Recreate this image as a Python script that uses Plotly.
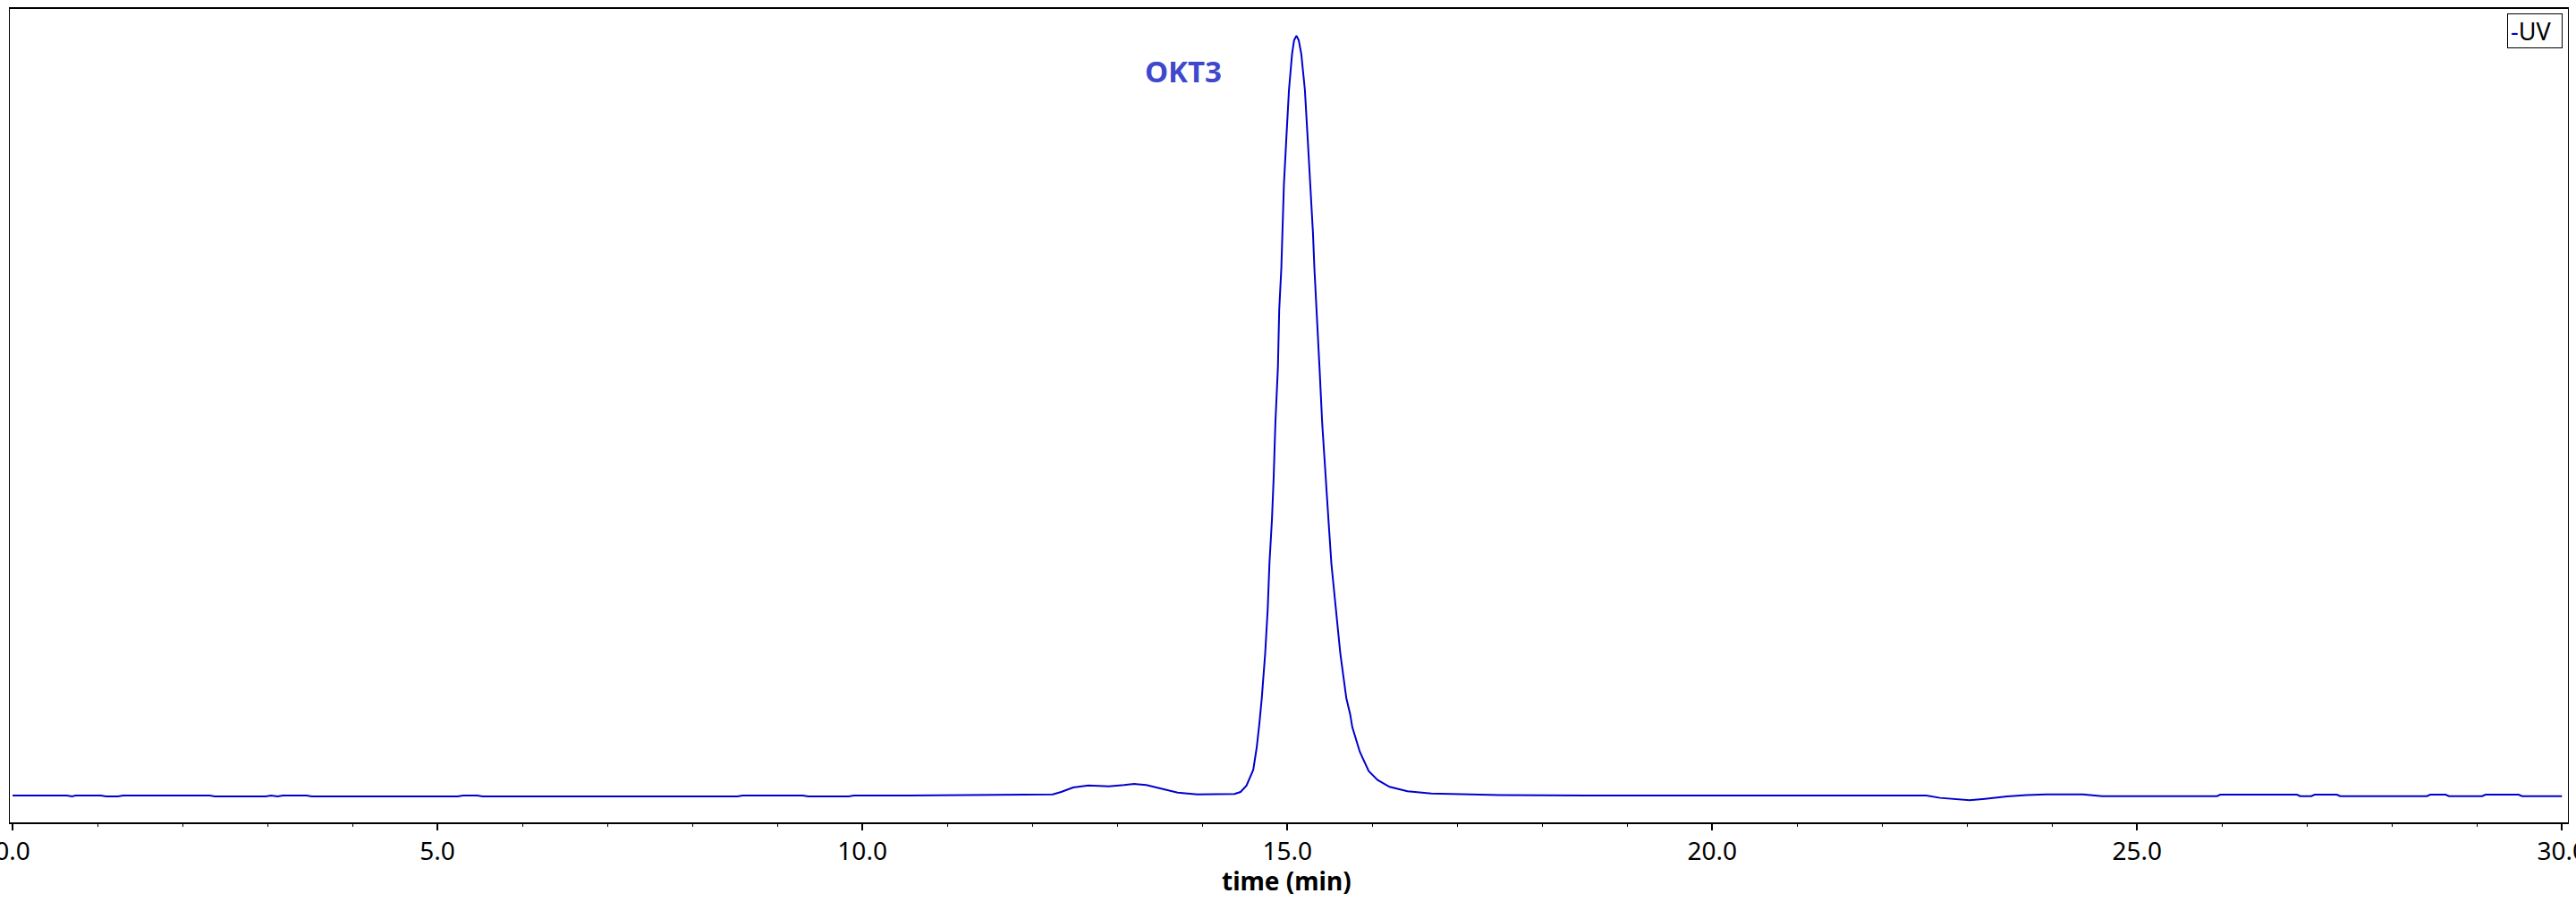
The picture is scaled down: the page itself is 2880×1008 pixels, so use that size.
import plotly.graph_objects as go

# ---- data (time in min, signal in relative units) ----
time_min = [
    0.00, 0.64, 0.70, 0.74, 1.04, 1.10, 1.24, 1.30, 2.32, 2.38, 2.98, 3.04, 3.12, 3.18,
    3.46, 3.52, 5.24, 5.30, 5.47, 5.53, 8.53, 8.59, 9.30, 9.36, 9.84, 9.90, 10.50, 11.00,
    11.90, 12.24, 12.34, 12.48, 12.66, 12.78, 12.90, 13.08, 13.20, 13.34, 13.54, 13.71,
    13.94, 14.34, 14.38, 14.45, 14.52, 14.60, 14.64, 14.67, 14.70, 14.74, 14.77, 14.79,
    14.82, 14.84, 14.86, 14.89, 14.905, 14.93, 14.94, 14.96, 14.99, 15.02, 15.056, 15.08,
    15.108, 15.135, 15.165, 15.207, 15.239, 15.274, 15.302, 15.319, 15.347, 15.379, 15.411,
    15.456, 15.484, 15.519, 15.572, 15.624, 15.695, 15.74, 15.765, 15.853, 15.958, 16.063,
    16.203, 16.414, 16.695, 17.20, 17.50, 18.50, 22.52, 22.68, 23.03, 23.21, 23.47, 23.70,
    23.93, 24.36, 24.59, 25.94, 25.98, 26.88, 26.92, 27.05, 27.09, 27.35, 27.39, 28.41,
    28.45, 28.63, 28.67, 29.06, 29.10, 29.49, 29.53, 30.00,
]
signal = [
    0.00, 0.00, -0.12, 0.00, 0.00, -0.12, -0.12, 0.00, 0.00, -0.12, -0.12, 0.00, -0.12, 0.00,
    0.00, -0.12, -0.12, 0.00, 0.00, -0.12, -0.12, 0.00, 0.00, -0.12, -0.12, 0.00, 0.00, 0.05,
    0.15, 0.15, 0.47, 1.06, 1.33, 1.30, 1.21, 1.37, 1.53, 1.37, 0.86, 0.39,
    0.15, 0.15, 0.20, 0.47, 1.30, 3.40, 6.30, 9.30, 12.80, 18.70, 24.60, 30.50,
    36.40, 41.90, 49.00, 56.40, 63.90, 69.40, 74.10, 80.30, 86.70, 92.90, 97.60, 99.40,
    100.0, 99.40, 97.60, 92.90, 86.70, 80.30, 74.10, 69.40, 63.90, 56.40, 49.00,
    41.90, 36.40, 30.50, 24.60, 18.70, 12.80, 10.70, 9.00, 5.77, 3.22, 2.04,
    1.14, 0.55, 0.27, 0.12, 0.05, 0.00, 0.00, -0.31, -0.63, -0.43, -0.12, 0.05,
    0.15, 0.15, -0.08, -0.08, 0.12, 0.12, -0.08, -0.08, 0.12, 0.12, -0.08, -0.08,
    0.12, 0.12, -0.08, -0.08, 0.12, 0.12, -0.08, -0.08,
]
series_name = "UV"
peak_label = "OKT3"
peak_label_pos = (13.78, 95.3)
x_title = "time (min)"
x_range = [-0.032, 30.07]
y_range = [-3.534, 103.53]

LINE_COLOR = "#0000CC"
FONT = "Noto Sans"

fig = go.Figure()
fig.add_trace(go.Scatter(
    x=time_min, y=signal, mode="lines", name=series_name,
    line=dict(color=LINE_COLOR, width=2), showlegend=False,
))

fig.update_layout(
    width=2880, height=1008,
    margin=dict(l=11, r=9, t=10, b=89, autoexpand=False),
    paper_bgcolor="white", plot_bgcolor="white",
    font=dict(family=FONT, color="black"),
    xaxis=dict(
        range=x_range, tick0=0, dtick=5, tickformat=".1f",
        ticks="outside", ticklen=7, tickwidth=1.5, tickcolor="black",
        minor=dict(dtick=1, tick0=0, ticks="outside", ticklen=3, tickwidth=1, tickcolor="black"),
        showline=True, linecolor="black", linewidth=1.5, mirror=True,
        showgrid=False, zeroline=False, ticklabeloverflow="allow", automargin=False,
        tickfont=dict(family=FONT, size=28, color="black"),
    ),
    yaxis=dict(
        range=y_range, showticklabels=False, ticks="", automargin=False,
        showline=True, linecolor="black", linewidth=1, mirror=True,
        showgrid=False, zeroline=False,
    ),
    annotations=[
        dict(text="<b>" + peak_label + "</b>", x=peak_label_pos[0], y=peak_label_pos[1],
             xref="x", yref="y", showarrow=False,
             font=dict(family=FONT, size=33, color="#3F48CC")),
        dict(text="<b>" + x_title + "</b>", x=0.499, y=-0.0715, xref="paper", yref="paper",
             xanchor="center", yanchor="middle", showarrow=False,
             font=dict(family=FONT, size=28, color="black")),
        dict(text="<span style='color:" + LINE_COLOR + "'>-</span>" + series_name,
             x=0.9979, y=0.9945, xref="paper", yref="paper", xanchor="right", yanchor="top",
             showarrow=False, bordercolor="black", borderwidth=1, borderpad=3,
             width=54, height=31, align="left",
             font=dict(family=FONT, size=27, color="black")),
    ],
)

fig.write_html("out.html", config={"displayModeBar": False},
               post_script="document.body.style.margin='0';document.body.style.overflow='hidden';")
